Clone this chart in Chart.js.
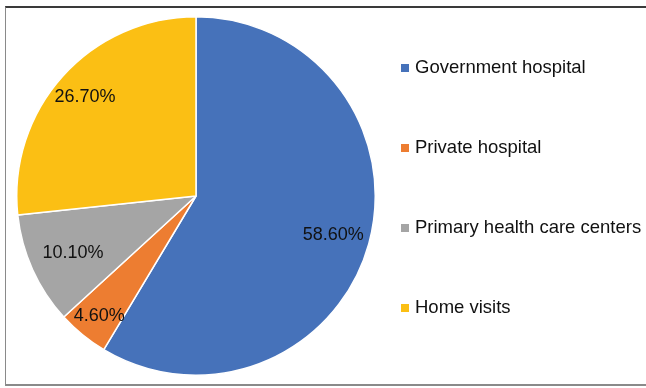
<!DOCTYPE html>
<html>
<head>
<meta charset="utf-8">
<script src="https://cdn.jsdelivr.net/npm/chart.js@4"></script>
<style>
  html, body { margin: 0; padding: 0; background: #fff; }
  #wrap { position: relative; width: 646px; height: 388px; overflow: hidden; }
  #frame { position: absolute; left: 5px; top: 6px; width: 700px; height: 380px;
           border-top: 2px solid #3a3a3a; border-left: 1.5px solid #8a8a8a; border-bottom: 2px solid #8a8a8a; box-sizing: border-box; }
  canvas { position: absolute; left: 0; top: 0; }
</style>
</head>
<body>
<div id="wrap">
  <div id="frame"></div>
  <canvas id="c" width="646" height="388"></canvas>
</div>
<script>
const categories = ["Government hospital", "Private hospital", "Primary health care centers", "Home visits"];
const values = [58.6, 4.6, 10.1, 26.7];
const valueLabels = ["58.60%", "4.60%", "10.10%", "26.70%"];
const colors = ["#4672BA", "#ED7D31", "#A5A5A5", "#FBBF14"];

const labelPlugin = {
  id: 'sliceLabels',
  afterDatasetsDraw(chart, args, opts) {
    const ctx = chart.ctx;
    const meta = chart.getDatasetMeta(0);
    ctx.save();
    ctx.font = '18px "Liberation Sans", Arial, sans-serif';
    ctx.fillStyle = '#111111';
    ctx.textAlign = 'center';
    ctx.textBaseline = 'middle';
    meta.data.forEach((arc, i) => {
      const p = arc.getProps(['x', 'y', 'startAngle', 'endAngle', 'outerRadius'], true);
      const mid = (p.startAngle + p.endAngle) / 2;
      const r = p.outerRadius * opts.fractions[i];
      ctx.fillText(valueLabels[i], p.x + Math.cos(mid) * r, p.y + Math.sin(mid) * r + 1);
    });
    ctx.restore();
  }
};

const legendPlugin = {
  id: 'sideLegend',
  afterDraw(chart, args, opts) {
    const ctx = chart.ctx;
    ctx.save();
    ctx.font = '18.5px "Liberation Sans", Arial, sans-serif';
    ctx.textBaseline = 'middle';
    ctx.textAlign = 'left';
    chart.data.labels.forEach((lab, i) => {
      const y = opts.top + i * opts.step;
      ctx.fillStyle = chart.data.datasets[0].backgroundColor[i];
      ctx.fillRect(opts.x, y - 4, 8, 8);
      ctx.fillStyle = '#111111';
      ctx.fillText(lab, opts.x + 14, y);
    });
    ctx.restore();
  }
};

new Chart(document.getElementById('c'), {
  type: 'pie',
  data: {
    labels: categories,
    datasets: [{
      data: values,
      backgroundColor: colors,
      borderColor: '#ffffff',
      borderWidth: 1.5
    }]
  },
  options: {
    responsive: false,
    animation: false,
    devicePixelRatio: 1,
    layout: { padding: { left: 16, top: 16, right: 270, bottom: 12 } },
    plugins: {
      legend: { display: false },
      tooltip: { enabled: false },
      sliceLabels: { fractions: [0.794, 0.854, 0.753, 0.833] },
      sideLegend: { x: 401, top: 68, step: 80 }
    }
  },
  plugins: [labelPlugin, legendPlugin]
});
</script>
</body>
</html>
